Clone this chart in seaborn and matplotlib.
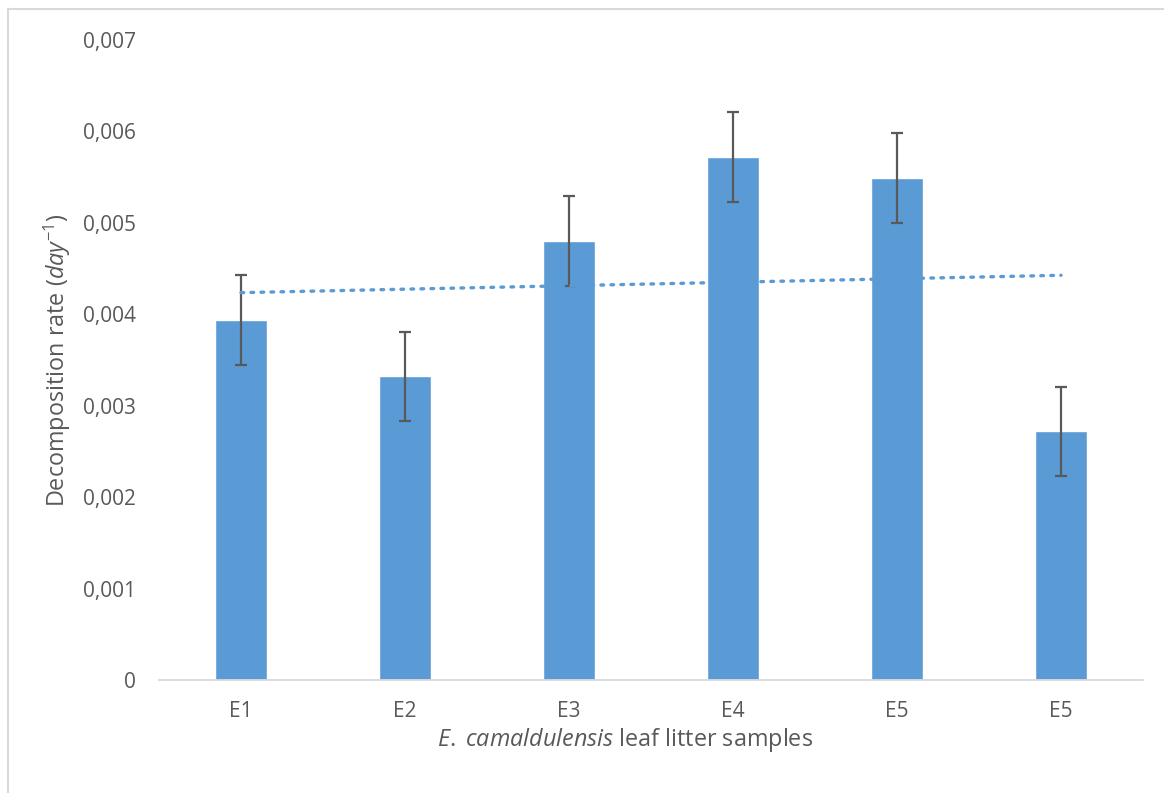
import numpy as np
import pandas as pd
import matplotlib
matplotlib.use("Agg")
import matplotlib.pyplot as plt
from matplotlib.lines import Line2D
import seaborn as sns

categories = ["E1", "E2", "E3", "E4", "E5", "E5 "]
tick_labels = ["E1", "E2", "E3", "E4", "E5", "E5"]
rates = [0.00394, 0.00332, 0.00480, 0.00572, 0.00549, 0.00272]
errors = [0.00049, 0.00049, 0.00049, 0.00049, 0.00049, 0.00049]
y_ticks = [0, 0.001, 0.002, 0.003, 0.004, 0.005, 0.006, 0.007]
y_tick_labels = ["0", "0,001", "0,002", "0,003", "0,004", "0,005", "0,006", "0,007"]

sns.set_theme(style="white")
plt.rcParams['font.family'] = ['Open Sans', 'DejaVu Sans']
plt.rcParams['mathtext.fontset'] = 'custom'
plt.rcParams['mathtext.rm'] = 'Open Sans'
plt.rcParams['mathtext.it'] = 'Open Sans:italic'
plt.rcParams['mathtext.bf'] = 'Open Sans:bold'

BAR = "#5B9BD5"
TXT = "#595959"

df = pd.DataFrame({"sample": categories, "rate": rates})

fig = plt.figure(figsize=(11.64, 7.93), dpi=100)
ax = fig.add_axes([159/1164, 1 - 680/793, (1143 - 159)/1164, (680 - 40)/793])

sns.barplot(data=df, x="sample", y="rate", color=BAR, width=0.317,
            saturation=1, errorbar=None, ax=ax, zorder=2)
x = np.arange(len(categories))
ax.errorbar(x, rates, yerr=errors, fmt="none", ecolor=TXT, elinewidth=1.6,
            capsize=4.3, capthick=1.6, zorder=3)

# linear trendline
coef = np.polyfit(x, rates, 1)
ax.plot(x, np.polyval(coef, x), linestyle=(0, (0.8, 2.2)), color=BAR,
        linewidth=2.4, dash_capstyle="round", zorder=4)

ax.set_xlim(-0.5, len(categories) - 0.5)
ax.set_ylim(0, 0.007)
ax.set_yticks(y_ticks)
ax.set_yticklabels(y_tick_labels)
ax.set_xticks(x)
ax.set_xticklabels(tick_labels)
ax.tick_params(axis="both", colors=TXT, labelsize=15, length=0)
ax.tick_params(axis="y", pad=16.5)
ax.tick_params(axis="x", pad=15)

for s in ["top", "right", "left"]:
    ax.spines[s].set_visible(False)
ax.spines["bottom"].set_color("#D9D9D9")
ax.spines["bottom"].set_linewidth(1.3)

ax.set_xlabel(r"$\mathit{E.}$ $\mathit{camaldulensis}$ leaf litter samples", color=TXT,
              fontsize=16.8)
ax.xaxis.set_label_coords(0.4736, -0.072)
ax.set_ylabel(r"Decomposition rate $\mathit{(day^{-1})}$", color=TXT, fontsize=16.8)
ax.yaxis.set_label_coords(-0.087, 0.5)

# outer chart border (left and top)
fig.add_artist(Line2D([8/1164, 8/1164], [0, 1 - 9/793], transform=fig.transFigure,
                      color="#D9D9D9", linewidth=1.5))
fig.add_artist(Line2D([8/1164, 1], [1 - 9/793, 1 - 9/793], transform=fig.transFigure,
                      color="#D9D9D9", linewidth=1.5))

fig.savefig("out.png", dpi=100)
